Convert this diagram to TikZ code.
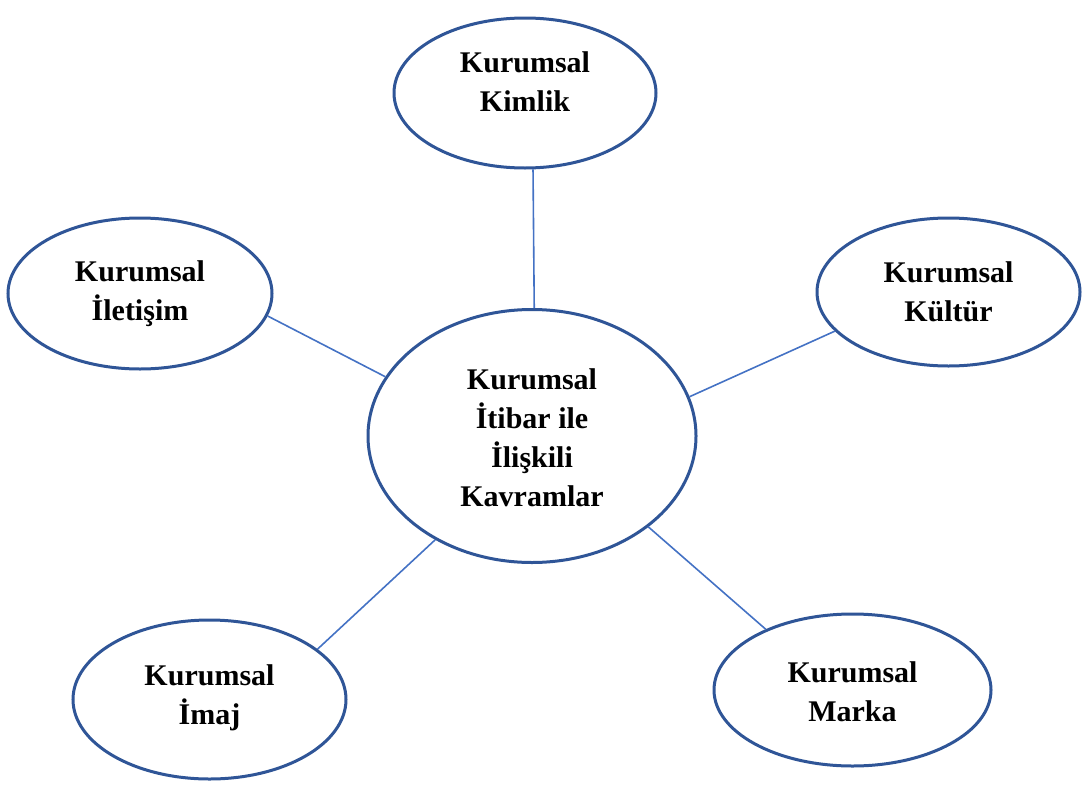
\documentclass[tikz,border=0pt]{standalone}
\usepackage{fontspec}
\setmainfont{Liberation Serif}
\usetikzlibrary{shapes.geometric}
\definecolor{rim}{HTML}{2F5597}
\definecolor{link}{HTML}{4472C4}
\tikzset{
  bubble/.style={ellipse, draw=rim, line width=3pt, fill=white, inner sep=0pt},
  lbl/.style={align=center, font=\fontsize{30}{39}\selectfont\bfseries, text=black, inner sep=0pt},
  conn/.style={draw=link, line width=1.6pt}
}
\begin{document}
\begin{tikzpicture}[x=1pt,y=-1pt]
\useasboundingbox (0,0) rectangle (1084,787);
% ellipses
\node[bubble, minimum width=328pt, minimum height=253pt] (c) at (532,436) {};
\node[bubble, minimum width=262pt, minimum height=150pt] (kim) at (525,93) {};
\node[bubble, minimum width=264pt, minimum height=151pt] (ile) at (140,293.5) {};
\node[bubble, minimum width=263pt, minimum height=148pt] (kul) at (948.5,292) {};
\node[bubble, minimum width=273pt, minimum height=159pt] (ima) at (209.5,699.5) {};
\node[bubble, minimum width=277pt, minimum height=152pt] (mar) at (852.5,690) {};
% connectors
\draw[conn] (c.89.6) -- (kim.276);
\draw[conn] (c.158.4) -- (ile.350.2);
\draw[conn] (c.14.4) -- (kul.199.1);
\draw[conn] (c.227.5) -- (ima.25.4);
\draw[conn] (c.322.5) -- (mar.145.6);
% texts
\node[lbl] (cT) at ([yshift=-2pt]c.center) {Kurumsal\\İtibar ile\\İlişkili\\Kavramlar};
\node[lbl] (kimT) at ([yshift=11pt]kim.center) {Kurumsal\\Kimlik};
\node[lbl] (ileT) at (ile.center) {Kurumsal\\İletişim};
\node[lbl] (kulT) at (kul.center) {Kurumsal\\Kültür};
\node[lbl] (imaT) at ([yshift=2pt]ima.center) {Kurumsal\\İmaj};
\node[lbl] (marT) at ([yshift=-2pt]mar.center) {Kurumsal\\Marka};
\end{tikzpicture}
\end{document}
